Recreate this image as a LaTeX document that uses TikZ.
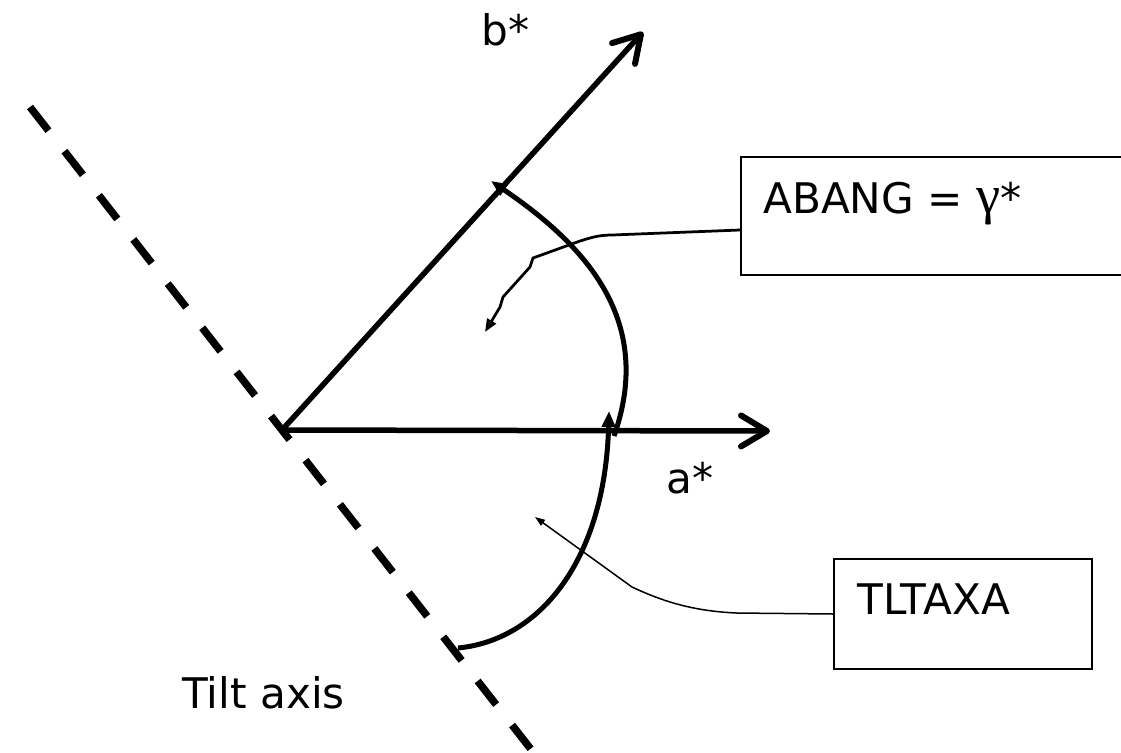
\documentclass[tikz,border=0pt]{standalone}
\usepackage{fontspec}
\setmainfont{DejaVu Sans}
\newfontfamily\greekfont{Liberation Serif}
\usetikzlibrary{arrows.meta, calc}

\begin{document}
\begin{tikzpicture}[x=0.02cm, y=-0.02cm,
    axis/.style={line width=0.11cm, -{Straight Barb[length=0.52cm, width=0.62cm, line width=0.12cm, round]}},
    tiltline/.style={line width=0.15cm, dash pattern=on 0.6cm off 0.52cm},
    anglearc/.style={line width=0.1cm, -{Triangle[length=0.32cm, width=0.26cm]}},
    callout/.style={draw, line width=0.04cm, inner sep=0pt, anchor=north west},
    abangline/.style={line width=0.055cm, -{Triangle[length=0.26cm, width=0.2cm]}},
    tltline/.style={line width=0.03cm, -{Triangle[length=0.2cm, width=0.14cm]}},
    lbl/.style={font=\fontsize{24}{29}\selectfont, inner sep=0pt, anchor=base west}
]
    \useasboundingbox (0,0) rectangle (1121,752);

    % Explicit Coordinates (pixels, y down)
    \coordinate (O)    at (282, 430);      % origin of a*, b*
    \coordinate (Aend) at (770, 431);      % a* tip
    \coordinate (Bend) at (643, 32);       % b* tip
    \coordinate (T1)   at (30, 107);       % tilt axis, top
    \coordinate (T2)   at (537, 757);      % tilt axis, bottom
    \coordinate (L0)   at (458, 648);      % TLTAXA arc start
    \coordinate (L1)   at (609, 411);      % TLTAXA arc tip
    \coordinate (U0)   at (614, 436);      % ABANG arc start
    \coordinate (U1)   at (491, 181);      % ABANG arc tip
    \coordinate (Gtip) at (485, 332);      % ABANG callout tip
    \coordinate (Ttip) at (535, 517);      % TLTAXA callout tip

    \draw[tiltline] (T1) -- (T2);
    \draw[axis] (O) -- (Aend);
    \draw[axis] (O) -- (Bend);

    \draw[anglearc] (L0) .. controls (540,640) and (605,560) .. (L1);
    \draw[anglearc] (U0) .. controls (655,320) and (585,245) .. (U1);

    \node[callout, minimum width=7.7cm, minimum height=2.36cm] (abang) at (740,156) {};
    \node[callout, minimum width=5.16cm, minimum height=2.2cm] (tltaxa) at (833,558) {};

    \node[lbl] (abangtxt)  at ($(abang.north west)+(23,57)$) {ABANG = {\greekfont\fontsize{31}{31}\selectfont γ}*};
    \node[lbl] (tltaxatxt) at ($(tltaxa.north west)+(24,56)$) {TLTAXA};
    \node[lbl] (bstar) at (481,45) {b*};
    \node[lbl] (astar) at (666,493) {a*};
    \node[lbl] (tilt)  at (182,708) {Tilt axis};

    \draw[abangline] ($(abang.north west)+(0,74)$) -- (612,235)
        .. controls (598,235) and (590,238) .. (580,241)
        -- (533,258) -- (530,267) -- (503,297) -- (500,307) -- (Gtip);
    \draw[tltline] (tltaxa.west) -- (737,613)
        .. controls (690,611) and (660,600) .. (632,587) -- (Ttip);
\end{tikzpicture}
\end{document}
